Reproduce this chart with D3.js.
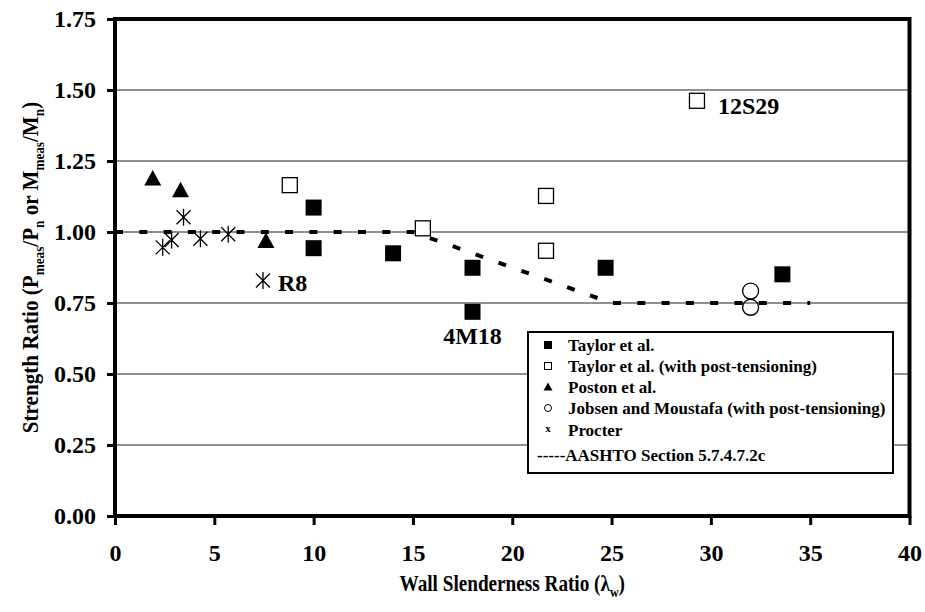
<!DOCTYPE html>
<html><head><meta charset="utf-8">
<script src="https://cdn.jsdelivr.net/npm/d3@7"></script>
<style>
html,body{margin:0;padding:0;background:#fff;}
svg text{font-family:"Liberation Serif","Times New Roman",serif;font-weight:bold;fill:#000;}
</style></head>
<body>
<svg id="chart" width="925" height="612"></svg>
<script>
// ---- data ----
const xTicks = [0, 5, 10, 15, 20, 25, 30, 35, 40];
const yTicks = [0, 0.25, 0.5, 0.75, 1.0, 1.25, 1.5, 1.75];
const taylor = [[10, 1.086], [10, 0.943], [14, 0.925], [18, 0.874], [18, 0.719], [24.7, 0.874], [33.6, 0.851]];
const taylorPT = [[8.8, 1.165], [15.5, 1.013], [21.7, 1.127], [21.7, 0.934], [29.3, 1.462]];
const poston = [[1.9, 1.188], [3.3, 1.147], [7.6, 0.968]];
const jobsen = [[32, 0.792], [32, 0.735]];
const procter = [[2.4, 0.946], [2.85, 0.972], [3.45, 1.052], [4.3, 0.976], [5.7, 0.992], [7.45, 0.829]];
const aashto = [[0, 1.0], [15, 1.0], [25, 0.75], [35, 0.75]];
const annoText = ["R8", "4M18", "12S29"];
const annoPoint = [[7.45, 0.829], [18, 0.719], [29.3, 1.462]];
const legendLabels = ["Taylor et al.", "Taylor et al. (with post-tensioning)", "Poston et al.", "Jobsen and Moustafa (with post-tensioning)", "Procter", "-----AASHTO Section 5.7.4.7.2c"];
const xTitle = "Wall Slenderness Ratio (λ";
const yTitleParts = [["Strength Ratio (P", 0], ["meas", 1], ["/P", 0], ["n", 1], [" or M", 0], ["meas", 1], ["/M", 0], ["n", 1], [")", 0]];

// ---- layout ----
const W = 925, H = 612;
const m = {left: 115, right: 15.5, top: 19, bottom: 96};
const svg = d3.select("#chart");
const x = d3.scaleLinear().domain([0, 40]).range([m.left, W - m.right]);
const y = d3.scaleLinear().domain([0, 1.75]).range([H - m.bottom, m.top]);

// gridlines
svg.append("g").selectAll("line").data(yTicks.filter(v => v > 0 && v < 1.75)).join("line")
  .attr("x1", x(0)).attr("x2", x(40)).attr("y1", d => y(d)).attr("y2", d => y(d))
  .attr("stroke", "#222").attr("stroke-width", 1);

// axes
const yAxis = svg.append("g").attr("transform", `translate(${x(0)},0)`)
  .call(d3.axisLeft(y).tickValues(yTicks).tickFormat(d3.format(".2f")).tickSize(8).tickPadding(11));
const xAxis = svg.append("g").attr("transform", `translate(0,${y(0)})`)
  .call(d3.axisBottom(x).tickValues(xTicks).tickFormat(d3.format("d")).tickSize(9).tickPadding(19));
[yAxis, xAxis].forEach(g => {
  g.select(".domain").remove();
  g.selectAll(".tick line").attr("stroke", "#000").attr("stroke-width", 3);
  g.selectAll(".tick text").style("font-size", "24px").attr("fill", "#000");
});

// frame
svg.append("rect").attr("x", x(0)).attr("y", y(1.75)).attr("width", x(40) - x(0)).attr("height", y(0) - y(1.75))
  .attr("fill", "none").attr("stroke", "#000").attr("stroke-width", 4);

// AASHTO line
svg.append("path").datum(aashto)
  .attr("d", d3.line().x(d => x(d[0])).y(d => y(d[1])))
  .attr("fill", "none").attr("stroke", "#000").attr("stroke-width", 4)
  .attr("stroke-dasharray", "8,16.3");

// markers
const S = 16;
svg.append("g").selectAll("rect").data(taylor).join("rect")
  .attr("x", d => x(d[0]) - S / 2).attr("y", d => y(d[1]) - S / 2).attr("width", S).attr("height", S)
  .attr("fill", "#000");
svg.append("g").selectAll("rect").data(taylorPT).join("rect")
  .attr("x", d => x(d[0]) - 7.5).attr("y", d => y(d[1]) - 7.5).attr("width", 15).attr("height", 15)
  .attr("fill", "#fff").attr("stroke", "#000").attr("stroke-width", 1.3);
svg.append("g").selectAll("path").data(poston).join("path")
  .attr("transform", d => `translate(${x(d[0])},${y(d[1])})`)
  .attr("d", "M0,-8.5L8.5,7L-8.5,7Z").attr("fill", "#000");
svg.append("g").selectAll("circle").data(jobsen).join("circle")
  .attr("cx", d => x(d[0])).attr("cy", d => y(d[1])).attr("r", 8)
  .attr("fill", "none").attr("stroke", "#000").attr("stroke-width", 1.3);
svg.append("g").selectAll("path").data(procter).join("path")
  .attr("transform", d => `translate(${x(d[0])},${y(d[1])})`)
  .attr("d", "M-7,-7L7,7M-7,7L7,-7M0,-8.5L0,8.5").attr("stroke", "#000").attr("stroke-width", 1.3).attr("fill", "none");

// annotations
const annoOff = [[15, 10, "start"], [0, 32, "middle"], [21, 13, "start"]];
svg.append("g").selectAll("text").data(annoText).join("text")
  .attr("x", (d, i) => x(annoPoint[i][0]) + annoOff[i][0])
  .attr("y", (d, i) => y(annoPoint[i][1]) + annoOff[i][1])
  .attr("text-anchor", (d, i) => annoOff[i][2])
  .style("font-size", "24px").text(d => d);

// legend
const lg = svg.append("g").attr("transform", "translate(528,332)");
lg.append("rect").attr("width", 365).attr("height", 141).attr("fill", "#fff").attr("stroke", "#000").attr("stroke-width", 2);
const rowY = [13, 34, 55, 76, 98, 123];
legendLabels.forEach((t, i) => {
  lg.append("text").attr("x", i === 5 ? 9 : 40).attr("y", rowY[i] + 6).style("font-size", "17px").text(t);
});
lg.append("rect").attr("x", 16).attr("y", rowY[0] - 4).attr("width", 8).attr("height", 8).attr("fill", "#000");
lg.append("rect").attr("x", 16.5).attr("y", rowY[1] - 3.5).attr("width", 7).attr("height", 7).attr("fill", "#fff").attr("stroke", "#000").attr("stroke-width", 1);
lg.append("path").attr("transform", `translate(20,${rowY[2]})`).attr("d", "M0,-4.5L4.5,3.5L-4.5,3.5Z").attr("fill", "#000");
lg.append("circle").attr("cx", 20).attr("cy", rowY[3]).attr("r", 3.5).attr("fill", "none").attr("stroke", "#000").attr("stroke-width", 1);
lg.append("text").attr("x", 20).attr("y", rowY[4] + 2).attr("text-anchor", "middle").style("font-size", "11px").text("x");

// axis titles
const xt = svg.append("text")
  .attr("transform", `translate(${(x(0) + x(40)) / 2},591) scale(0.8,1)`)
  .attr("text-anchor", "middle").style("font-size", "24px");
xt.append("tspan").text(xTitle);
xt.append("tspan").attr("dy", 6).style("font-size", "15px").text("w");
xt.append("tspan").attr("dy", -6).text(")");

const yt = svg.append("text").attr("transform", `translate(38,${(y(0) + y(1.75)) / 2}) rotate(-90) scale(0.88,1)`)
  .attr("text-anchor", "middle").style("font-size", "24px");
let prevSub = 0;
yTitleParts.forEach(([t, sub]) => {
  const dy = sub === prevSub ? 0 : (sub ? 6 : -6);
  yt.append("tspan").attr("dy", dy).style("font-size", sub ? "15px" : "24px").text(t);
  prevSub = sub;
});
</script>
</body></html>
